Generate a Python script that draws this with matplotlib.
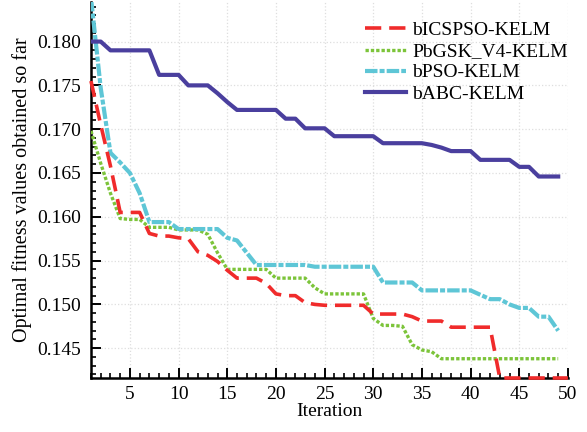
import matplotlib
matplotlib.use("Agg")
import matplotlib.pyplot as plt
from matplotlib.ticker import MultipleLocator, FormatStrFormatter

plt.rcParams['font.family'] = ['Liberation Serif', 'DejaVu Serif']

iterations = list(range(1, 51))

bicspso = [0.1755, 0.1705, 0.1658, 0.1605, 0.1605, 0.1605, 0.1581, 0.1578, 0.1578, 0.1576,
           0.1575, 0.1560, 0.1556, 0.1549, 0.1539, 0.1530, 0.1530, 0.1530, 0.1524, 0.1512,
           0.1510, 0.1510, 0.1502, 0.1500, 0.1499, 0.1499, 0.1499, 0.1499, 0.1499, 0.1489,
           0.1489, 0.1489, 0.1489, 0.1486, 0.1481, 0.1481, 0.1481, 0.1474, 0.1474, 0.1474,
           0.1474, 0.1474, 0.1416, 0.1416, 0.1416, 0.1416, 0.1416, 0.1416, 0.1416, 0.1416]

pbgsk = [0.1698, 0.1661, 0.1627, 0.1598, 0.1597, 0.1597, 0.1588, 0.1588, 0.1588, 0.1585,
         0.1585, 0.1585, 0.1580, 0.1559, 0.1540, 0.1540, 0.1540, 0.1540, 0.1540, 0.1530,
         0.1530, 0.1530, 0.1530, 0.1519, 0.1512, 0.1512, 0.1512, 0.1512, 0.1512, 0.1484,
         0.1476, 0.1476, 0.1475, 0.1454, 0.1448, 0.1446, 0.1438, 0.1438, 0.1438, 0.1438,
         0.1438, 0.1438, 0.1438, 0.1438, 0.1438, 0.1438, 0.1438, 0.1438, 0.1438]

bpso = [0.1850, 0.1747, 0.1673, 0.1662, 0.1650, 0.1627, 0.1594, 0.1594, 0.1594, 0.1586,
        0.1586, 0.1586, 0.1586, 0.1586, 0.1576, 0.1573, 0.1559, 0.1545, 0.1545, 0.1545,
        0.1545, 0.1545, 0.1545, 0.1543, 0.1543, 0.1543, 0.1543, 0.1543, 0.1543, 0.1543,
        0.1525, 0.1525, 0.1525, 0.1525, 0.1516, 0.1516, 0.1516, 0.1516, 0.1516, 0.1516,
        0.1511, 0.1506, 0.1506, 0.1500, 0.1496, 0.1496, 0.1486, 0.1486, 0.1470]

babc = [0.1800, 0.1800, 0.1790, 0.1790, 0.1790, 0.1790, 0.1790, 0.1762, 0.1762, 0.1762,
        0.1750, 0.1750, 0.1750, 0.1741, 0.1731, 0.1722, 0.1722, 0.1722, 0.1722, 0.1722,
        0.1712, 0.1712, 0.1701, 0.1701, 0.1701, 0.1692, 0.1692, 0.1692, 0.1692, 0.1692,
        0.1684, 0.1684, 0.1684, 0.1684, 0.1684, 0.1682, 0.1679, 0.1675, 0.1675, 0.1675,
        0.1665, 0.1665, 0.1665, 0.1665, 0.1657, 0.1657, 0.1646, 0.1646, 0.1646]

labels = ["bICSPSO-KELM", "PbGSK_V4-KELM", "bPSO-KELM", "bABC-KELM"]

fig = plt.figure(figsize=(5.87, 4.32), dpi=100)
ax = fig.add_axes([0.155, 0.125, 0.8125, 0.870])

ax.plot(iterations[:len(bicspso)], bicspso, color='#f02b2b', lw=2.6,
        linestyle=(0, (4.5, 2.2)), label=labels[0], zorder=4, clip_on=False)
ax.plot(iterations[:len(pbgsk)], pbgsk, color='#7cc43a', lw=2.4,
        linestyle=(0, (1, 0.6)), label=labels[1], zorder=3)
ax.plot(iterations[:len(bpso)], bpso, color='#5ec6d6', lw=3.0,
        linestyle=(0, (3, 0.5, 1.2, 0.5)), label=labels[2], zorder=3)
ax.plot(iterations[:len(babc)], babc, color='#4a3f9e', lw=3.0,
        linestyle='-', label=labels[3], zorder=3)

ax.set_xlim(1, 50)
ax.set_ylim(0.1416, 0.1845)

ax.xaxis.set_major_locator(MultipleLocator(5))
ax.xaxis.set_minor_locator(MultipleLocator(1))
ax.yaxis.set_major_locator(MultipleLocator(0.005))
ax.yaxis.set_minor_locator(MultipleLocator(0.001))
ax.yaxis.set_major_formatter(FormatStrFormatter('%.3f'))
ax.set_xticks([5, 10, 15, 20, 25, 30, 35, 40, 45, 50])

ax.tick_params(which='major', direction='in', length=7, width=1.4, labelsize=14)
ax.tick_params(which='minor', direction='in', length=3.5, width=1.2)
ax.tick_params(axis='x', pad=6)
ax.tick_params(axis='y', pad=7)

for s in ['top', 'right']:
    ax.spines[s].set_visible(False)
for s in ['left', 'bottom']:
    ax.spines[s].set_linewidth(1.8)

ax.grid(True, which='major', color='#dedede', linestyle=':', linewidth=0.9)
ax.set_axisbelow(True)

ax.set_xlabel('Iteration', fontsize=14, labelpad=0)
ax.set_ylabel('Optimal fitness values obtained so far', fontsize=14.5, labelpad=4)

leg = ax.legend(loc='upper left', bbox_to_anchor=(0.595, 0.986), bbox_transform=fig.transFigure,
                frameon=False, fontsize=14, handlelength=2.1, handletextpad=0.35,
                labelspacing=0.18, borderpad=0.3)

fig.savefig('out.png', dpi=100)
